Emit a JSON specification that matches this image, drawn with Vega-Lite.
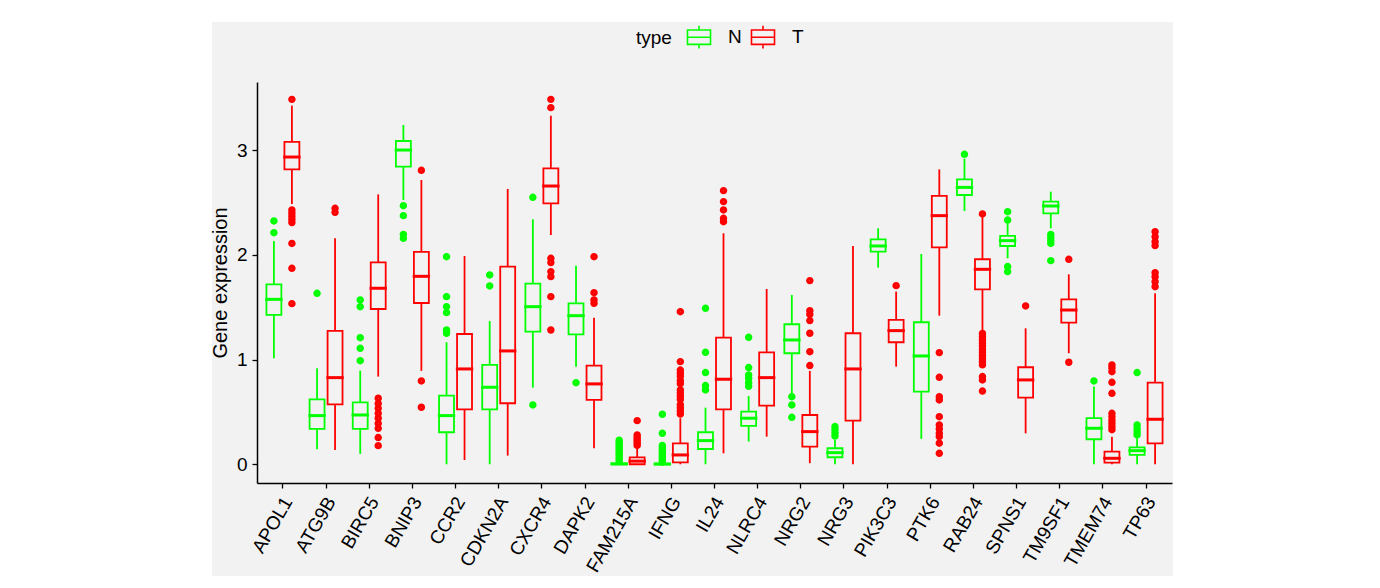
{
  "$schema": "https://vega.github.io/schema/vega-lite/v6.json",
  "width": 961,
  "height": 554,
  "autosize": {"type": "none"},
  "padding": {"left": 212, "top": 22, "right": 207, "bottom": 12},
  "background": "white",
  "config": {
    "view": {"fill": "#f2f2f2", "stroke": null},
    "font": "Liberation Sans",
    "axis": {
      "grid": false,
      "domainColor": "black",
      "domainWidth": 1.5,
      "tickColor": "black",
      "tickWidth": 1.3,
      "tickSize": 5,
      "labelColor": "black",
      "labelFontSize": 19,
      "labelFont": "Liberation Sans",
      "titleFont": "Liberation Sans",
      "titleFontSize": 20,
      "titleFontWeight": "normal",
      "titleColor": "black"
    }
  },
  "datasets": {
    "boxes": [
      {"gene": "APOL1", "type": "N", "lower": 1.013, "q1": 1.427, "median": 1.576, "q3": 1.72, "upper": 2.134},
      {"gene": "APOL1", "type": "T", "lower": 2.487, "q1": 2.818, "median": 2.936, "q3": 3.08, "upper": 3.427},
      {"gene": "ATG9B", "type": "N", "lower": 0.143, "q1": 0.338, "median": 0.465, "q3": 0.621, "upper": 0.917},
      {"gene": "ATG9B", "type": "T", "lower": 0.137, "q1": 0.573, "median": 0.828, "q3": 1.274, "upper": 2.159},
      {"gene": "BIRC5", "type": "N", "lower": 0.099, "q1": 0.338, "median": 0.471, "q3": 0.592, "upper": 0.895},
      {"gene": "BIRC5", "type": "T", "lower": 0.838, "q1": 1.484, "median": 1.682, "q3": 1.93, "upper": 2.579},
      {"gene": "BNIP3", "type": "N", "lower": 2.525, "q1": 2.844, "median": 3.003, "q3": 3.089, "upper": 3.242},
      {"gene": "BNIP3", "type": "T", "lower": 0.892, "q1": 1.541, "median": 1.796, "q3": 2.029, "upper": 2.717},
      {"gene": "CCR2", "type": "N", "lower": 0.0, "q1": 0.306, "median": 0.465, "q3": 0.656, "upper": 1.166},
      {"gene": "CCR2", "type": "T", "lower": 0.041, "q1": 0.525, "median": 0.911, "q3": 1.245, "upper": 1.99},
      {"gene": "CDKN2A", "type": "N", "lower": 0.0, "q1": 0.525, "median": 0.736, "q3": 0.949, "upper": 1.369},
      {"gene": "CDKN2A", "type": "T", "lower": 0.083, "q1": 0.583, "median": 1.083, "q3": 1.889, "upper": 2.631},
      {"gene": "CXCR4", "type": "N", "lower": 0.732, "q1": 1.268, "median": 1.506, "q3": 1.726, "upper": 2.341},
      {"gene": "CXCR4", "type": "T", "lower": 2.191, "q1": 2.494, "median": 2.659, "q3": 2.828, "upper": 3.331},
      {"gene": "DAPK2", "type": "N", "lower": 0.933, "q1": 1.242, "median": 1.42, "q3": 1.538, "upper": 1.898},
      {"gene": "DAPK2", "type": "T", "lower": 0.153, "q1": 0.615, "median": 0.768, "q3": 0.943, "upper": 1.401},
      {"gene": "FAM215A", "type": "N", "lower": 0.0, "q1": 0.0, "median": 0.003, "q3": 0.008, "upper": 0.02},
      {"gene": "FAM215A", "type": "T", "lower": 0.0, "q1": 0.0, "median": 0.03, "q3": 0.065, "upper": 0.15},
      {"gene": "IFNG", "type": "N", "lower": 0.0, "q1": 0.0, "median": 0.002, "q3": 0.006, "upper": 0.015},
      {"gene": "IFNG", "type": "T", "lower": 0.0, "q1": 0.019, "median": 0.089, "q3": 0.2, "upper": 0.44},
      {"gene": "IL24", "type": "N", "lower": 0.0, "q1": 0.146, "median": 0.226, "q3": 0.306, "upper": 0.541},
      {"gene": "IL24", "type": "T", "lower": 0.105, "q1": 0.525, "median": 0.812, "q3": 1.21, "upper": 2.207},
      {"gene": "NLRC4", "type": "N", "lower": 0.217, "q1": 0.366, "median": 0.44, "q3": 0.503, "upper": 0.653},
      {"gene": "NLRC4", "type": "T", "lower": 0.264, "q1": 0.561, "median": 0.828, "q3": 1.07, "upper": 1.675},
      {"gene": "NRG2", "type": "N", "lower": 0.678, "q1": 1.061, "median": 1.188, "q3": 1.338, "upper": 1.618},
      {"gene": "NRG2", "type": "T", "lower": 0.01, "q1": 0.169, "median": 0.312, "q3": 0.471, "upper": 0.892},
      {"gene": "NRG3", "type": "N", "lower": 0.0, "q1": 0.067, "median": 0.111, "q3": 0.153, "upper": 0.232},
      {"gene": "NRG3", "type": "T", "lower": 0.0, "q1": 0.417, "median": 0.911, "q3": 1.252, "upper": 2.086},
      {"gene": "PIK3C3", "type": "N", "lower": 1.879, "q1": 2.032, "median": 2.086, "q3": 2.15, "upper": 2.255},
      {"gene": "PIK3C3", "type": "T", "lower": 0.933, "q1": 1.166, "median": 1.277, "q3": 1.379, "upper": 1.65},
      {"gene": "PTK6", "type": "N", "lower": 0.242, "q1": 0.694, "median": 1.035, "q3": 1.357, "upper": 2.01},
      {"gene": "PTK6", "type": "T", "lower": 1.42, "q1": 2.073, "median": 2.376, "q3": 2.564, "upper": 2.818},
      {"gene": "RAB24", "type": "N", "lower": 2.42, "q1": 2.573, "median": 2.646, "q3": 2.723, "upper": 2.92},
      {"gene": "RAB24", "type": "T", "lower": 1.268, "q1": 1.672, "median": 1.863, "q3": 1.959, "upper": 2.37},
      {"gene": "SPNS1", "type": "N", "lower": 1.968, "q1": 2.086, "median": 2.137, "q3": 2.182, "upper": 2.303},
      {"gene": "SPNS1", "type": "T", "lower": 0.296, "q1": 0.637, "median": 0.806, "q3": 0.927, "upper": 1.299},
      {"gene": "TM9SF1", "type": "N", "lower": 2.255, "q1": 2.398, "median": 2.468, "q3": 2.51, "upper": 2.605},
      {"gene": "TM9SF1", "type": "T", "lower": 1.061, "q1": 1.354, "median": 1.474, "q3": 1.576, "upper": 1.815},
      {"gene": "TMEM74", "type": "N", "lower": 0.0, "q1": 0.239, "median": 0.344, "q3": 0.44, "upper": 0.742},
      {"gene": "TMEM74", "type": "T", "lower": 0.0, "q1": 0.016, "median": 0.057, "q3": 0.121, "upper": 0.264},
      {"gene": "TP63", "type": "N", "lower": 0.0, "q1": 0.089, "median": 0.13, "q3": 0.162, "upper": 0.248},
      {"gene": "TP63", "type": "T", "lower": 0.0, "q1": 0.2, "median": 0.43, "q3": 0.78, "upper": 1.634}
    ],
    "outliers": [
      {"gene": "APOL1", "type": "N", "value": 2.325}, {"gene": "APOL1", "type": "N", "value": 2.213},
      {"gene": "APOL1", "type": "T", "value": 3.487}, {"gene": "APOL1", "type": "T", "value": 2.43},
      {"gene": "APOL1", "type": "T", "value": 2.4}, {"gene": "APOL1", "type": "T", "value": 2.37},
      {"gene": "APOL1", "type": "T", "value": 2.34}, {"gene": "APOL1", "type": "T", "value": 2.31},
      {"gene": "APOL1", "type": "T", "value": 2.11}, {"gene": "APOL1", "type": "T", "value": 1.873},
      {"gene": "APOL1", "type": "T", "value": 1.535},
      {"gene": "ATG9B", "type": "N", "value": 1.634},
      {"gene": "ATG9B", "type": "T", "value": 2.446}, {"gene": "ATG9B", "type": "T", "value": 2.408},
      {"gene": "BIRC5", "type": "N", "value": 1.57}, {"gene": "BIRC5", "type": "N", "value": 1.506},
      {"gene": "BIRC5", "type": "N", "value": 1.21}, {"gene": "BIRC5", "type": "N", "value": 1.108},
      {"gene": "BIRC5", "type": "N", "value": 0.99},
      {"gene": "BIRC5", "type": "T", "value": 0.631}, {"gene": "BIRC5", "type": "T", "value": 0.58},
      {"gene": "BIRC5", "type": "T", "value": 0.535}, {"gene": "BIRC5", "type": "T", "value": 0.487},
      {"gene": "BIRC5", "type": "T", "value": 0.44}, {"gene": "BIRC5", "type": "T", "value": 0.39},
      {"gene": "BIRC5", "type": "T", "value": 0.344}, {"gene": "BIRC5", "type": "T", "value": 0.255},
      {"gene": "BIRC5", "type": "T", "value": 0.178},
      {"gene": "BNIP3", "type": "N", "value": 2.471}, {"gene": "BNIP3", "type": "N", "value": 2.376},
      {"gene": "BNIP3", "type": "N", "value": 2.197}, {"gene": "BNIP3", "type": "N", "value": 2.159},
      {"gene": "BNIP3", "type": "T", "value": 2.809}, {"gene": "BNIP3", "type": "T", "value": 0.796},
      {"gene": "BNIP3", "type": "T", "value": 0.545},
      {"gene": "CCR2", "type": "N", "value": 1.984}, {"gene": "CCR2", "type": "N", "value": 1.602},
      {"gene": "CCR2", "type": "N", "value": 1.506}, {"gene": "CCR2", "type": "N", "value": 1.449},
      {"gene": "CCR2", "type": "N", "value": 1.283}, {"gene": "CCR2", "type": "N", "value": 1.252},
      {"gene": "CDKN2A", "type": "N", "value": 1.809}, {"gene": "CDKN2A", "type": "N", "value": 1.704},
      {"gene": "CXCR4", "type": "N", "value": 2.551}, {"gene": "CXCR4", "type": "N", "value": 0.567},
      {"gene": "CXCR4", "type": "T", "value": 3.487}, {"gene": "CXCR4", "type": "T", "value": 3.408},
      {"gene": "CXCR4", "type": "T", "value": 1.968}, {"gene": "CXCR4", "type": "T", "value": 1.927},
      {"gene": "CXCR4", "type": "T", "value": 1.841}, {"gene": "CXCR4", "type": "T", "value": 1.793},
      {"gene": "CXCR4", "type": "T", "value": 1.602}, {"gene": "CXCR4", "type": "T", "value": 1.283},
      {"gene": "DAPK2", "type": "N", "value": 0.78},
      {"gene": "DAPK2", "type": "T", "value": 1.984}, {"gene": "DAPK2", "type": "T", "value": 1.64},
      {"gene": "DAPK2", "type": "T", "value": 1.57}, {"gene": "DAPK2", "type": "T", "value": 1.538},
      {"gene": "FAM215A", "type": "N", "value": 0.03}, {"gene": "FAM215A", "type": "N", "value": 0.05},
      {"gene": "FAM215A", "type": "N", "value": 0.07}, {"gene": "FAM215A", "type": "N", "value": 0.09},
      {"gene": "FAM215A", "type": "N", "value": 0.11}, {"gene": "FAM215A", "type": "N", "value": 0.13},
      {"gene": "FAM215A", "type": "N", "value": 0.15}, {"gene": "FAM215A", "type": "N", "value": 0.17},
      {"gene": "FAM215A", "type": "N", "value": 0.19}, {"gene": "FAM215A", "type": "N", "value": 0.21},
      {"gene": "FAM215A", "type": "N", "value": 0.23},
      {"gene": "FAM215A", "type": "T", "value": 0.417}, {"gene": "FAM215A", "type": "T", "value": 0.28},
      {"gene": "FAM215A", "type": "T", "value": 0.26}, {"gene": "FAM215A", "type": "T", "value": 0.24},
      {"gene": "FAM215A", "type": "T", "value": 0.22}, {"gene": "FAM215A", "type": "T", "value": 0.2},
      {"gene": "FAM215A", "type": "T", "value": 0.18},
      {"gene": "IFNG", "type": "N", "value": 0.478}, {"gene": "IFNG", "type": "N", "value": 0.296},
      {"gene": "IFNG", "type": "N", "value": 0.18}, {"gene": "IFNG", "type": "N", "value": 0.16},
      {"gene": "IFNG", "type": "N", "value": 0.14}, {"gene": "IFNG", "type": "N", "value": 0.12},
      {"gene": "IFNG", "type": "N", "value": 0.1}, {"gene": "IFNG", "type": "N", "value": 0.08},
      {"gene": "IFNG", "type": "N", "value": 0.06}, {"gene": "IFNG", "type": "N", "value": 0.04},
      {"gene": "IFNG", "type": "N", "value": 0.02},
      {"gene": "IFNG", "type": "T", "value": 1.458}, {"gene": "IFNG", "type": "T", "value": 0.981},
      {"gene": "IFNG", "type": "T", "value": 0.9}, {"gene": "IFNG", "type": "T", "value": 0.87},
      {"gene": "IFNG", "type": "T", "value": 0.84}, {"gene": "IFNG", "type": "T", "value": 0.8},
      {"gene": "IFNG", "type": "T", "value": 0.77}, {"gene": "IFNG", "type": "T", "value": 0.71},
      {"gene": "IFNG", "type": "T", "value": 0.68}, {"gene": "IFNG", "type": "T", "value": 0.65},
      {"gene": "IFNG", "type": "T", "value": 0.62}, {"gene": "IFNG", "type": "T", "value": 0.57},
      {"gene": "IFNG", "type": "T", "value": 0.54}, {"gene": "IFNG", "type": "T", "value": 0.51},
      {"gene": "IFNG", "type": "T", "value": 0.48},
      {"gene": "IL24", "type": "N", "value": 1.49}, {"gene": "IL24", "type": "N", "value": 1.07},
      {"gene": "IL24", "type": "N", "value": 0.876}, {"gene": "IL24", "type": "N", "value": 0.752},
      {"gene": "IL24", "type": "N", "value": 0.71},
      {"gene": "IL24", "type": "T", "value": 2.615}, {"gene": "IL24", "type": "T", "value": 2.51},
      {"gene": "IL24", "type": "T", "value": 2.43}, {"gene": "IL24", "type": "T", "value": 2.35},
      {"gene": "IL24", "type": "T", "value": 2.318},
      {"gene": "NLRC4", "type": "N", "value": 1.213}, {"gene": "NLRC4", "type": "N", "value": 0.924},
      {"gene": "NLRC4", "type": "N", "value": 0.853}, {"gene": "NLRC4", "type": "N", "value": 0.82},
      {"gene": "NLRC4", "type": "N", "value": 0.78}, {"gene": "NLRC4", "type": "N", "value": 0.745},
      {"gene": "NRG2", "type": "N", "value": 0.646}, {"gene": "NRG2", "type": "N", "value": 0.567},
      {"gene": "NRG2", "type": "N", "value": 0.449},
      {"gene": "NRG2", "type": "T", "value": 1.755}, {"gene": "NRG2", "type": "T", "value": 1.468},
      {"gene": "NRG2", "type": "T", "value": 1.433}, {"gene": "NRG2", "type": "T", "value": 1.373},
      {"gene": "NRG2", "type": "T", "value": 1.252}, {"gene": "NRG2", "type": "T", "value": 1.076},
      {"gene": "NRG2", "type": "T", "value": 0.943},
      {"gene": "NRG3", "type": "N", "value": 0.36}, {"gene": "NRG3", "type": "N", "value": 0.33},
      {"gene": "NRG3", "type": "N", "value": 0.3}, {"gene": "NRG3", "type": "N", "value": 0.27},
      {"gene": "PIK3C3", "type": "T", "value": 1.707},
      {"gene": "PTK6", "type": "T", "value": 1.067}, {"gene": "PTK6", "type": "T", "value": 0.831},
      {"gene": "PTK6", "type": "T", "value": 0.646}, {"gene": "PTK6", "type": "T", "value": 0.615},
      {"gene": "PTK6", "type": "T", "value": 0.455}, {"gene": "PTK6", "type": "T", "value": 0.376},
      {"gene": "PTK6", "type": "T", "value": 0.338}, {"gene": "PTK6", "type": "T", "value": 0.296},
      {"gene": "PTK6", "type": "T", "value": 0.264}, {"gene": "PTK6", "type": "T", "value": 0.201},
      {"gene": "PTK6", "type": "T", "value": 0.105},
      {"gene": "RAB24", "type": "N", "value": 2.962},
      {"gene": "RAB24", "type": "T", "value": 2.392}, {"gene": "RAB24", "type": "T", "value": 1.25},
      {"gene": "RAB24", "type": "T", "value": 1.22}, {"gene": "RAB24", "type": "T", "value": 1.19},
      {"gene": "RAB24", "type": "T", "value": 1.16}, {"gene": "RAB24", "type": "T", "value": 1.13},
      {"gene": "RAB24", "type": "T", "value": 1.1}, {"gene": "RAB24", "type": "T", "value": 1.07},
      {"gene": "RAB24", "type": "T", "value": 1.04}, {"gene": "RAB24", "type": "T", "value": 1.01},
      {"gene": "RAB24", "type": "T", "value": 0.98}, {"gene": "RAB24", "type": "T", "value": 0.95},
      {"gene": "RAB24", "type": "T", "value": 0.838}, {"gene": "RAB24", "type": "T", "value": 0.806},
      {"gene": "RAB24", "type": "T", "value": 0.7},
      {"gene": "SPNS1", "type": "N", "value": 2.414}, {"gene": "SPNS1", "type": "N", "value": 2.334},
      {"gene": "SPNS1", "type": "N", "value": 1.889}, {"gene": "SPNS1", "type": "N", "value": 1.841},
      {"gene": "SPNS1", "type": "T", "value": 1.513},
      {"gene": "TM9SF1", "type": "N", "value": 2.197}, {"gene": "TM9SF1", "type": "N", "value": 2.17},
      {"gene": "TM9SF1", "type": "N", "value": 2.14}, {"gene": "TM9SF1", "type": "N", "value": 2.11},
      {"gene": "TM9SF1", "type": "N", "value": 1.946},
      {"gene": "TM9SF1", "type": "T", "value": 1.959}, {"gene": "TM9SF1", "type": "T", "value": 0.975},
      {"gene": "TMEM74", "type": "N", "value": 0.796},
      {"gene": "TMEM74", "type": "T", "value": 0.949}, {"gene": "TMEM74", "type": "T", "value": 0.92},
      {"gene": "TMEM74", "type": "T", "value": 0.885}, {"gene": "TMEM74", "type": "T", "value": 0.783},
      {"gene": "TMEM74", "type": "T", "value": 0.678}, {"gene": "TMEM74", "type": "T", "value": 0.487},
      {"gene": "TMEM74", "type": "T", "value": 0.455}, {"gene": "TMEM74", "type": "T", "value": 0.42},
      {"gene": "TMEM74", "type": "T", "value": 0.39}, {"gene": "TMEM74", "type": "T", "value": 0.36},
      {"gene": "TMEM74", "type": "T", "value": 0.33},
      {"gene": "TP63", "type": "N", "value": 0.876}, {"gene": "TP63", "type": "N", "value": 0.376},
      {"gene": "TP63", "type": "N", "value": 0.34}, {"gene": "TP63", "type": "N", "value": 0.31},
      {"gene": "TP63", "type": "N", "value": 0.28},
      {"gene": "TP63", "type": "T", "value": 2.223}, {"gene": "TP63", "type": "T", "value": 2.175},
      {"gene": "TP63", "type": "T", "value": 2.127}, {"gene": "TP63", "type": "T", "value": 2.09},
      {"gene": "TP63", "type": "T", "value": 1.831}, {"gene": "TP63", "type": "T", "value": 1.793},
      {"gene": "TP63", "type": "T", "value": 1.745}, {"gene": "TP63", "type": "T", "value": 1.697}
    ]
  },
  "encoding": {
    "x": {
      "field": "gene",
      "type": "nominal",
      "scale": {
        "type": "band",
        "domain": ["APOL1", "ATG9B", "BIRC5", "BNIP3", "CCR2", "CDKN2A", "CXCR4", "DAPK2", "FAM215A", "IFNG", "IL24", "NLRC4", "NRG2", "NRG3", "PIK3C3", "PTK6", "RAB24", "SPNS1", "TM9SF1", "TMEM74", "TP63"],
        "range": [45, 960],
        "paddingInner": 0,
        "paddingOuter": 0.1
      },
      "axis": {
        "title": null,
        "offset": -93,
        "labelAngle": -60,
        "labelAlign": "right",
        "labelBaseline": "middle",
        "labelPadding": 10,
        "labelOffset": 5,
        "labelOverlap": false
      }
    },
    "xOffset": {
      "field": "type",
      "type": "nominal",
      "scale": {"domain": ["N", "T"], "paddingInner": 0.17, "paddingOuter": 0.284}
    },
    "color": {
      "field": "type",
      "type": "nominal",
      "scale": {"domain": ["N", "T"], "range": ["#00ff00", "#ff0000"]},
      "legend": {
        "title": "type",
        "orient": "none",
        "legendX": 424,
        "legendY": 2,
        "direction": "horizontal",
        "titleOrient": "left",
        "titleFontSize": 19,
        "titleFontWeight": "normal",
        "titleColor": "black",
        "titleFont": "Liberation Sans",
        "titlePadding": 14,
        "labelFontSize": 19,
        "labelFont": "Liberation Sans",
        "labelColor": "black",
        "labelOffset": 16,
        "columnPadding": 6,
        "symbolType": "M-0.96,-0.6H0.96V0.6H-0.96Z M-0.96,0H0.96 M0,-0.6V-0.95 M0,0.6V0.95",
        "symbolSize": 576,
        "symbolFillColor": "transparent",
        "symbolStrokeWidth": 1.6
      }
    }
  },
  "layer": [
    {
      "data": {"name": "boxes"},
      "mark": {"type": "rule", "strokeWidth": 1.8},
      "encoding": {
        "y": {
          "field": "lower",
          "type": "quantitative",
          "scale": {"domain": [-0.179, 3.653], "range": [461, 60], "nice": false, "zero": false},
          "axis": {"title": "Gene expression", "values": [0, 1, 2, 3], "format": "d", "offset": -45, "labelPadding": 5, "titlePadding": 6}
        },
        "y2": {"field": "q1"}
      }
    },
    {
      "data": {"name": "boxes"},
      "mark": {"type": "rule", "strokeWidth": 1.8},
      "encoding": {
        "y": {"field": "q3", "type": "quantitative"},
        "y2": {"field": "upper"}
      }
    },
    {
      "data": {"name": "boxes"},
      "mark": {"type": "bar", "filled": false, "fill": "transparent", "strokeWidth": 1.8},
      "encoding": {
        "y": {"field": "q1", "type": "quantitative"},
        "y2": {"field": "q3"}
      }
    },
    {
      "data": {"name": "boxes"},
      "mark": {"type": "tick", "filled": false, "size": 15, "thickness": 0.6, "strokeWidth": 2.4, "opacity": 1},
      "encoding": {
        "y": {"field": "median", "type": "quantitative"}
      }
    },
    {
      "data": {"name": "outliers"},
      "mark": {"type": "point", "filled": false, "size": 12, "strokeWidth": 4, "opacity": 1},
      "encoding": {
        "y": {"field": "value", "type": "quantitative"}
      }
    }
  ]
}
